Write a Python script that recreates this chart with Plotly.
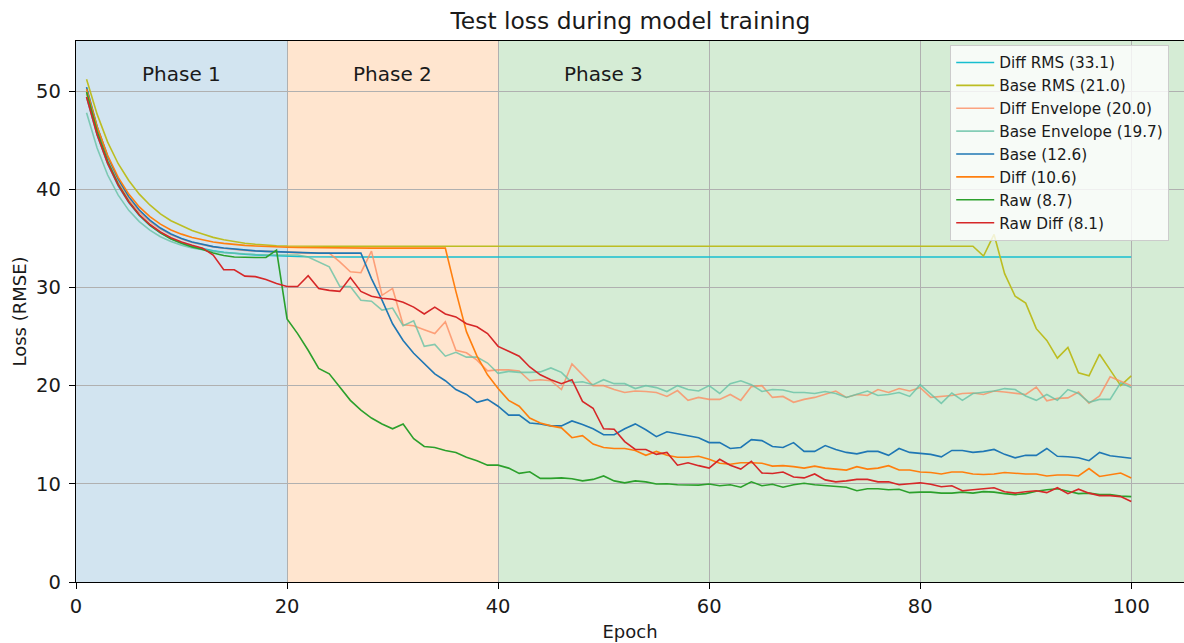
import plotly.graph_objects as go

epochs = list(range(1, 101))

diff_rms = [
    49.4, 45.54, 42.6, 40.35, 38.64, 37.32, 36.33, 35.56, 34.97, 34.53,
    34.19, 33.93, 33.73, 33.59, 33.47, 33.38, 33.32, 33.26, 33.23, 33.2,
    33.15, 33.12, 33.1, 33.1, 33.1, 33.1, 33.1, 33.1, 33.1, 33.1,
    33.1, 33.1, 33.1, 33.1, 33.1, 33.1, 33.1, 33.1, 33.1, 33.1,
    33.1, 33.1, 33.1, 33.1, 33.1, 33.1, 33.1, 33.1, 33.1, 33.1,
    33.1, 33.1, 33.1, 33.1, 33.1, 33.1, 33.1, 33.1, 33.1, 33.1,
    33.1, 33.1, 33.1, 33.1, 33.1, 33.1, 33.1, 33.1, 33.1, 33.1,
    33.1, 33.1, 33.1, 33.1, 33.1, 33.1, 33.1, 33.1, 33.1, 33.1,
    33.1, 33.1, 33.1, 33.1, 33.1, 33.1, 33.1, 33.1, 33.1, 33.1,
    33.1, 33.1, 33.1, 33.1, 33.1, 33.1, 33.1, 33.1, 33.1, 33.1,
]

base_rms = [
    51.2, 47.65, 44.8, 42.6, 40.9, 39.5, 38.4, 37.5, 36.8, 36.3,
    35.8, 35.45, 35.1, 34.85, 34.65, 34.5, 34.4, 34.3, 34.25, 34.22,
    34.2, 34.2, 34.2, 34.2, 34.2, 34.2, 34.2, 34.2, 34.2, 34.2,
    34.2, 34.2, 34.2, 34.2, 34.2, 34.2, 34.2, 34.2, 34.2, 34.2,
    34.2, 34.2, 34.2, 34.2, 34.2, 34.2, 34.2, 34.2, 34.2, 34.2,
    34.2, 34.2, 34.2, 34.2, 34.2, 34.2, 34.2, 34.2, 34.2, 34.2,
    34.2, 34.2, 34.2, 34.2, 34.2, 34.2, 34.2, 34.2, 34.2, 34.2,
    34.2, 34.2, 34.2, 34.2, 34.2, 34.2, 34.2, 34.2, 34.2, 34.2,
    34.2, 34.2, 34.2, 34.2, 34.2, 33.2, 35.4, 31.4, 29.1, 28.4,
    25.8, 24.6, 22.8, 23.9, 21.3, 21.0, 23.2, 21.6, 20.0, 21.0,
]

diff_env = [
    49.7, 45.86, 42.94, 40.71, 39.01, 37.7, 36.71, 35.95, 35.36, 34.93,
    34.59, 34.33, 34.13, 33.99, 33.87, 33.78, 33.72, 33.66, 33.62, 33.6,
    33.55, 33.5, 33.5, 33.5, 32.6, 31.6, 31.5, 33.7, 29.2, 29.9,
    26.2, 26.1, 25.7, 25.3, 26.5, 23.6, 23.35, 22.6, 21.5, 21.6,
    21.6, 21.5, 20.5, 20.6, 20.5, 19.6, 22.2, 21.1, 20.0, 20.0,
    19.6, 19.3, 19.45, 19.4, 19.3, 18.9, 19.5, 18.5, 18.8, 18.6,
    18.6, 19.1, 18.5, 19.9, 20.0, 18.8, 18.9, 18.3, 18.6, 18.8,
    19.1, 19.45, 18.8, 19.1, 19.0, 19.6, 19.3, 19.7, 19.45, 19.8,
    18.8, 18.9, 19.0, 19.2, 19.25, 19.1, 19.45, 19.35, 19.2, 19.1,
    19.85, 18.45, 18.7, 18.75, 19.35, 18.2, 18.95, 20.9, 20.45, 20.0,
]

base_env = [
    47.8, 44.2, 41.45, 39.4, 37.85, 36.7, 35.83, 35.17, 34.68, 34.31,
    34.03, 33.83, 33.67, 33.55, 33.46, 33.4, 33.35, 33.32, 33.3, 33.3,
    33.3, 33.1, 32.6, 32.1, 30.1, 30.1, 28.7, 28.6, 27.7, 27.9,
    26.1, 26.6, 24.0, 24.2, 23.0, 23.4, 22.9, 22.9, 22.3, 21.25,
    21.45, 21.35, 21.35, 21.4, 21.8, 21.35, 20.3, 20.4, 20.1, 20.6,
    20.2, 20.2, 19.7, 20.0, 19.8, 19.4, 20.0, 19.6, 19.45, 20.0,
    19.2, 20.2, 20.5, 20.1, 19.4, 19.6, 19.55, 19.3, 19.3, 19.2,
    19.4, 19.2, 18.8, 19.1, 19.45, 19.0, 19.1, 19.3, 18.9, 20.1,
    19.1, 18.2, 19.25, 18.5, 19.2, 19.3, 19.45, 19.7, 19.6, 18.95,
    18.5, 19.1, 18.5, 19.6, 19.2, 18.3, 18.6, 18.6, 20.3, 19.8,
]

base = [
    50.4, 46.4, 43.35, 41.02, 39.25, 37.88, 36.85, 36.05, 35.44, 34.99,
    34.63, 34.36, 34.16, 34.01, 33.89, 33.79, 33.72, 33.67, 33.63, 33.6,
    33.55, 33.5, 33.5, 33.5, 33.5, 33.5, 33.5, 30.9, 28.7, 26.3,
    24.6, 23.3, 22.2, 21.2, 20.5, 19.6, 19.1, 18.3, 18.6, 17.9,
    17.0, 17.0, 16.2, 16.1, 15.9, 15.9, 16.4, 16.05, 15.6, 15.0,
    15.0, 15.6, 16.1, 15.5, 14.8, 15.3, 15.1, 14.9, 14.7, 14.2,
    14.2, 13.6, 13.7, 14.5, 14.4, 13.8, 13.7, 14.2, 13.3, 13.3,
    13.9, 13.5, 13.2, 13.05, 13.3, 13.3, 12.9, 13.6, 13.2, 13.1,
    13.0, 12.75, 13.4, 13.4, 13.2, 13.3, 13.5, 13.0, 12.65, 12.9,
    12.9, 13.6, 12.8, 12.75, 12.65, 12.35, 13.2, 12.85, 12.75, 12.6,
]

diff = [
    50.2, 46.36, 43.44, 41.21, 39.51, 38.2, 37.21, 36.45, 35.86, 35.43,
    35.09, 34.83, 34.63, 34.49, 34.37, 34.28, 34.22, 34.16, 34.12, 34.1,
    34.07, 34.05, 34.03, 34.02, 34.0, 34.0, 34.0, 34.0, 34.0, 34.0,
    34.0, 34.0, 34.0, 34.0, 34.0, 29.6, 25.5, 23.0, 21.1, 19.7,
    18.5, 17.9, 16.7, 16.2, 15.9, 15.7, 14.7, 14.9, 14.05, 13.7,
    13.6, 13.6, 13.4, 12.9, 13.3, 12.9, 12.7, 12.7, 12.8, 12.5,
    12.1, 12.0, 12.15, 12.15, 12.1, 11.8, 11.85, 11.75, 11.6, 11.8,
    11.6, 11.5, 11.4, 11.75, 11.5, 11.6, 11.85, 11.4, 11.4, 11.2,
    11.15, 11.0, 11.2, 11.2, 11.0, 10.95, 11.0, 11.15, 11.05, 11.0,
    11.0, 10.8, 10.9, 10.9, 10.8, 11.55, 10.75, 10.9, 11.1, 10.6,
]

raw = [
    49.9, 45.9, 42.85, 40.52, 38.75, 37.38, 36.35, 35.55, 34.94, 34.49,
    34.13, 33.86, 33.5, 33.25, 33.1, 33.05, 33.05, 33.05, 33.8, 26.8,
    25.3, 23.6, 21.75, 21.2, 19.9, 18.5, 17.5, 16.7, 16.1, 15.6,
    16.1, 14.6, 13.8, 13.7, 13.4, 13.2, 12.7, 12.35, 11.9, 11.9,
    11.6, 11.06, 11.23, 10.55, 10.55, 10.6, 10.52, 10.3, 10.45, 10.8,
    10.3, 10.1, 10.3, 10.2, 9.98, 10.0, 9.9, 9.87, 9.87, 9.98,
    9.8, 9.9, 9.65, 10.2, 9.8, 9.95, 9.65, 9.9, 10.05, 9.9,
    9.8, 9.7, 9.65, 9.3, 9.5, 9.5, 9.4, 9.45, 9.1, 9.15,
    9.15, 9.05, 9.05, 9.15, 9.05, 9.2, 9.15, 9.0, 8.9, 9.0,
    9.25, 9.4, 9.5, 9.25, 9.0, 9.05, 8.9, 8.9, 8.75, 8.7,
]

raw_diff = [
    49.4, 45.56, 42.64, 40.41, 38.71, 37.4, 36.41, 35.65, 35.06, 34.63,
    34.29, 34.0, 33.3, 31.8, 31.8, 31.15, 31.1, 30.8, 30.4, 30.1,
    30.1, 31.2, 29.9, 29.7, 29.6, 31.0, 29.6, 29.1, 28.9, 28.8,
    28.5, 28.0, 27.3, 28.0, 27.3, 27.0, 26.3, 26.0, 25.3, 24.0,
    23.5, 23.0, 21.9, 21.1, 20.6, 20.2, 20.6, 18.4, 17.7, 15.6,
    15.55, 14.3, 13.5, 13.5, 13.0, 13.2, 11.9, 12.15, 11.85, 11.6,
    12.5, 11.9, 11.5, 12.3, 11.1, 11.05, 11.2, 10.7, 10.6, 11.0,
    10.4, 10.2, 10.3, 10.45, 10.45, 10.2, 10.2, 9.9, 10.0, 10.1,
    9.95, 9.7, 9.8, 9.3, 9.4, 9.5, 9.6, 9.2, 9.05, 9.2,
    9.3, 9.1, 9.6, 9.0, 9.45, 9.05, 8.8, 8.8, 8.7, 8.2,
]

series_names = ["Diff RMS (33.1)", "Base RMS (21.0)", "Diff Envelope (20.0)",
                "Base Envelope (19.7)", "Base (12.6)", "Diff (10.6)",
                "Raw (8.7)", "Raw Diff (8.1)"]
series_values = [diff_rms, base_rms, diff_env, base_env, base, diff, raw, raw_diff]
series_colors = ["#17becf", "#bcbd22", "rgba(252,141,98,0.8)", "rgba(102,194,165,0.8)",
                 "#1f77b4", "#ff7f0e", "#2ca02c", "#d62728"]

phase_names = ["Phase 1", "Phase 2", "Phase 3"]
phase_starts = [0, 20, 40]
phase_ends = [20, 40, 105]
phase_label_x = [10, 30, 50]
phase_colors = ["#d2e4f0", "#ffe5cf", "#d5ecd5"]

FONT = "DejaVu Sans"
TXT = "#1a1a1a"

fig = go.Figure()
for name, vals, col in zip(series_names, series_values, series_colors):
    fig.add_trace(go.Scatter(x=epochs, y=vals, mode="lines", name=name,
                             line=dict(color=col, width=1.6)))

for x0, x1, c in zip(phase_starts, phase_ends, phase_colors):
    fig.add_shape(type="rect", xref="x", yref="paper", x0=x0, x1=x1, y0=0, y1=1,
                  fillcolor=c, line=dict(width=0), layer="below")

for name, px in zip(phase_names, phase_label_x):
    fig.add_annotation(x=px, y=51.7, xref="x", yref="y", text=name, showarrow=False,
                       font=dict(family=FONT, size=20, color=TXT))

fig.update_layout(
    width=1184, height=643,
    margin=dict(l=76, r=0, t=41, b=61),
    paper_bgcolor="white", plot_bgcolor="white",
    font=dict(family=FONT, size=19.5, color=TXT),
    title=dict(text="Test loss during model training", x=0.5325, xanchor="center",
               y=0.968, yanchor="middle", font=dict(family=FONT, size=23.4, color=TXT)),
    legend=dict(x=0.789, y=0.9926, xanchor="left", yanchor="top",
                bgcolor="rgba(255,255,255,0.8)", bordercolor="#cccccc", borderwidth=1,
                itemwidth=38,
                font=dict(family=FONT, size=15.3, color=TXT)),
    showlegend=True,
)
fig.update_xaxes(range=[0, 105], tickvals=[0, 20, 40, 60, 80, 100],
                 showgrid=True, gridcolor="#b0b0b0", gridwidth=1.4,
                 showline=True, linecolor="black", linewidth=1.3, mirror=True,
                 ticks="outside", ticklen=6, tickwidth=1.3, tickcolor="black", zeroline=False,
                 tickfont=dict(family=FONT, size=19.5, color=TXT),
                 title=dict(text="Epoch", standoff=8, font=dict(family=FONT, size=18, color=TXT)))
fig.update_yaxes(range=[0, 55.1], tickvals=[0, 10, 20, 30, 40, 50],
                 showgrid=True, gridcolor="#b0b0b0", gridwidth=1.4,
                 showline=True, linecolor="black", linewidth=1.3,
                 ticks="outside", ticklen=6, tickwidth=1.3, tickcolor="black", zeroline=False,
                 ticklabelstandoff=4,
                 tickfont=dict(family=FONT, size=19.5, color=TXT),
                 title=dict(text="Loss (RMSE)", standoff=4, font=dict(family=FONT, size=18, color=TXT)))

fig.write_html("out.html")
